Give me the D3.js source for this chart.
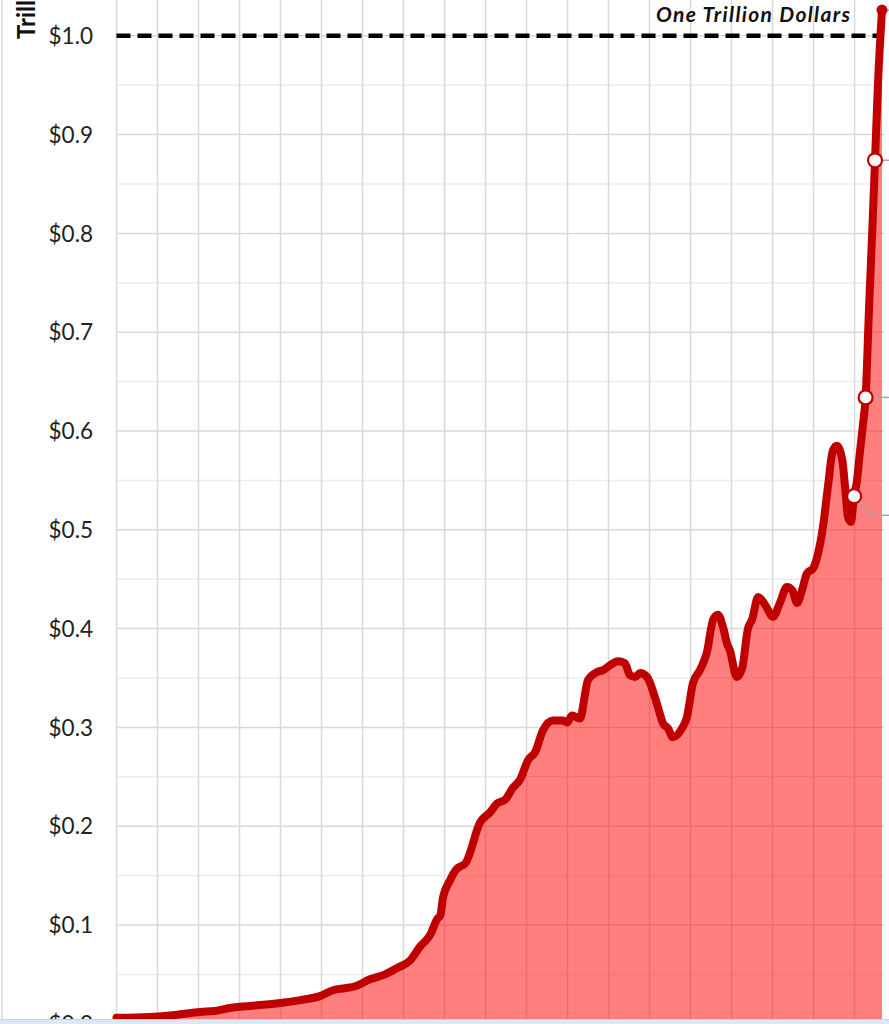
<!DOCTYPE html>
<html>
<head>
<meta charset="utf-8">
<script src="https://cdn.jsdelivr.net/npm/d3@7"></script>
<style>
  html, body { margin: 0; padding: 0; background: #fff; }
  svg { display: block; }
</style>
</head>
<body>
<svg id="chart" width="889" height="1024"></svg>
<script>
// ---- data (x in grid-interval units, y in trillions of dollars) ----
const periods = [0, 0.82, 1.43, 2.04, 2.40, 2.77, 3.26, 3.99, 4.48, 4.96, 5.28, 5.57, 5.82, 6.18, 6.55, 6.87, 7.16, 7.40, 7.65, 7.82, 7.90, 7.96, 8.13, 8.28, 8.52, 8.87, 9.11, 9.28, 9.48, 9.67, 9.84, 10.04, 10.21, 10.40, 10.65, 10.89, 10.99, 11.11, 11.30, 11.50, 11.72, 11.87, 12.04, 12.23, 12.40, 12.52, 12.65, 12.77, 12.94, 13.18, 13.33, 13.45, 13.57, 13.79, 13.91, 14.06, 14.23, 14.40, 14.55, 14.67, 14.79, 14.89, 14.96, 15.13, 15.26, 15.40, 15.50, 15.65, 15.82, 16.01, 16.18, 16.35, 16.48, 16.60, 16.72, 16.84, 16.99, 17.11, 17.23, 17.35, 17.47, 17.57, 17.70, 17.77, 17.84, 17.91, 17.99, 18.06, 18.13, 18.21, 18.27, 18.35, 18.43, 18.50, 18.57, 18.67];
const values = [0.006, 0.007, 0.009, 0.012, 0.013, 0.016, 0.018, 0.021, 0.024, 0.028, 0.034, 0.036, 0.038, 0.045, 0.050, 0.057, 0.064, 0.078, 0.090, 0.106, 0.110, 0.127, 0.145, 0.156, 0.163, 0.204, 0.214, 0.223, 0.227, 0.239, 0.247, 0.267, 0.275, 0.297, 0.307, 0.307, 0.305, 0.312, 0.309, 0.348, 0.356, 0.358, 0.363, 0.367, 0.365, 0.353, 0.351, 0.355, 0.351, 0.324, 0.304, 0.299, 0.290, 0.299, 0.310, 0.345, 0.358, 0.376, 0.409, 0.414, 0.402, 0.385, 0.378, 0.351, 0.360, 0.400, 0.409, 0.432, 0.424, 0.412, 0.426, 0.442, 0.439, 0.426, 0.439, 0.456, 0.461, 0.476, 0.503, 0.543, 0.580, 0.585, 0.571, 0.543, 0.513, 0.508, 0.534, 0.550, 0.578, 0.608, 0.634, 0.720, 0.800, 0.874, 0.950, 1.026];
const markedIdx = [86, 90, 93];          // hollow labelled markers
const lastIdx = values.length - 1;       // filled end marker
const yTicks = [0, 0.1, 0.2, 0.3, 0.4, 0.5, 0.6, 0.7, 0.8, 0.9, 1.0];
const yMinor = [0.05, 0.15, 0.25, 0.35, 0.45, 0.55, 0.65, 0.75, 0.85, 0.95, 1.05];
const xGrid = d3.range(0, 19, 1);
const refValue = 1.0;
const refLabel = "One Trillion Dollars";
const yTitle = "Trillions";

const data = periods.map((p, i) => ({ p, v: values[i] }));

const svg = d3.select("#chart");
const W = 889, H = 1024;
const x = d3.scaleLinear().domain([0, 18.67]).range([116.5, 882]);
const y = d3.scaleLinear().domain([0, 1]).range([1023.8, 35.8]);
const FONT = "Lato, 'Open Sans', sans-serif";

// gridlines
svg.append("g").selectAll("line").data(yMinor).join("line")
  .attr("x1", 116.5).attr("x2", 884)
  .attr("y1", d => y(d)).attr("y2", d => y(d))
  .attr("stroke", "#ececec").attr("stroke-width", 1.5);
svg.append("g").selectAll("line").data(yTicks).join("line")
  .attr("x1", 116.5).attr("x2", 884)
  .attr("y1", d => y(d)).attr("y2", d => y(d))
  .attr("stroke", "#d9d9d9").attr("stroke-width", 1.5);
svg.append("g").selectAll("line").data(xGrid).join("line")
  .attr("x1", d => x(d)).attr("x2", d => x(d))
  .attr("y1", 0).attr("y2", H)
  .attr("stroke", "#d9d9d9").attr("stroke-width", 1.5);

// left frame line
svg.append("line").attr("x1", 2).attr("x2", 2).attr("y1", 0).attr("y2", H)
  .attr("stroke", "#d9d9d9").attr("stroke-width", 1.5);

// area
const curve = d3.curveMonotoneX;
svg.append("path").datum(data)
  .attr("d", d3.area().x(d => x(d.p)).y0(y(0)).y1(d => y(d.v)).curve(curve))
  .attr("fill", "rgba(255,0,0,0.5)");

// reference dashed line
svg.append("line")
  .attr("x1", 116.5).attr("x2", 880)
  .attr("y1", y(refValue)).attr("y2", y(refValue))
  .attr("stroke", "#000").attr("stroke-width", 4.5)
  .attr("stroke-dasharray", "14,7");
svg.append("text")
  .attr("x", 850).attr("y", 22)
  .attr("text-anchor", "end")
  .attr("font-family", FONT)
  .attr("font-weight", "bold").attr("font-style", "italic")
  .attr("font-size", 21).attr("fill", "#111")
  .attr("textLength", 194).attr("lengthAdjust", "spacing")
  .text(refLabel);

// line
svg.append("path").datum(data)
  .attr("d", d3.line().x(d => x(d.p)).y(d => y(d.v)).curve(curve))
  .attr("fill", "none").attr("stroke", "#c00000").attr("stroke-width", 8)
  .attr("stroke-linejoin", "round").attr("stroke-linecap", "round");

// leader lines
const lead = svg.append("g").attr("stroke", "#a6a6a6").attr("stroke-width", 1.5).attr("fill", "none");
const m0 = data[markedIdx[0]];
lead.append("path").attr("d", `M${x(m0.p)},${y(m0.v)} L${x(m0.p) + 18},${y(m0.v) + 19} L${W},${y(m0.v) + 19}`);
[markedIdx[1], markedIdx[2], lastIdx].forEach(i => {
  const d = data[i];
  lead.append("line").attr("x1", x(d.p)).attr("x2", W).attr("y1", y(d.v)).attr("y2", y(d.v));
});

// markers
svg.append("g").selectAll("circle").data(markedIdx.map(i => data[i])).join("circle")
  .attr("cx", d => x(d.p)).attr("cy", d => y(d.v)).attr("r", 7)
  .attr("fill", "#fff").attr("stroke", "#c00000").attr("stroke-width", 2.2);
svg.append("circle").datum(data[lastIdx])
  .attr("cx", d => x(d.p)).attr("cy", d => y(d.v)).attr("r", 5.5)
  .attr("fill", "#c00000");

// y axis labels
svg.append("g").selectAll("text").data(yTicks).join("text")
  .attr("x", 93).attr("y", d => y(d)).attr("dy", "0.36em")
  .attr("text-anchor", "end")
  .attr("font-family", FONT)
  .attr("font-size", 22.5).attr("fill", "#222")
  .text(d => "$" + d3.format(".1f")(d));

// y axis title (rotated)
svg.append("text")
  .attr("transform", "translate(35,39) rotate(-90)")
  .attr("text-anchor", "start")
  .attr("font-family", FONT)
  .attr("font-weight", "bold")
  .attr("font-size", 24).attr("fill", "#111")
  .text(yTitle);

// bottom strip
svg.append("rect").attr("x", 0).attr("y", 1019.5).attr("width", W).attr("height", 5)
  .attr("fill", "#dde8f5");
svg.append("line").attr("x1", 0).attr("x2", W).attr("y1", 1019.5).attr("y2", 1019.5)
  .attr("stroke", "#c9d3df").attr("stroke-width", 1);
</script>
</body>
</html>
